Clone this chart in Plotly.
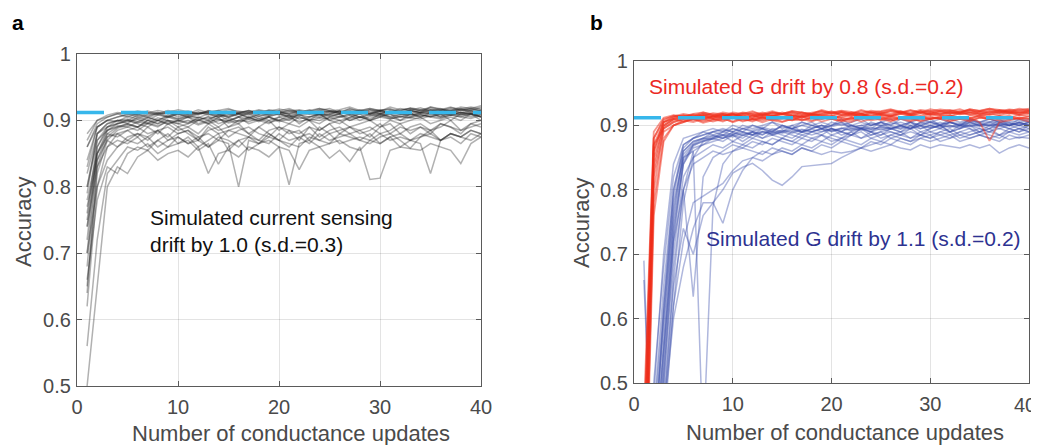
import plotly.graph_objects as go

# ---------------- data ----------------
updates = list(range(1, 41))
baseline_acc = 0.912
x_ticks = [0, 10, 20, 30, 40]
x_tick_labels = ["0", "10", "20", "30", "40"]
y_ticks = [0.5, 0.6, 0.7, 0.8, 0.9, 1.0]
y_tick_labels = ["0.5", "0.6", "0.7", "0.8", "0.9", "1"]

# panel a: simulated current sensing drift (black)
a01 = [0.88,0.90,0.905,0.91,0.905,0.91,0.912,0.908,0.912,0.91,0.914,0.91,0.912,0.915,0.91,0.912,0.914,0.91,0.915,0.912,0.91,0.914,0.912,0.916,0.912,0.914,0.91,0.915,0.913,0.916,0.912,0.915,0.918,0.914,0.916,0.913,0.917,0.915,0.918,0.916]
a02 = [0.84,0.89,0.90,0.905,0.91,0.905,0.91,0.912,0.906,0.912,0.908,0.913,0.91,0.905,0.912,0.91,0.915,0.912,0.908,0.914,0.91,0.912,0.916,0.91,0.914,0.912,0.918,0.913,0.91,0.915,0.917,0.912,0.915,0.919,0.914,0.916,0.92,0.915,0.918,0.914]
a03 = [0.80,0.88,0.895,0.90,0.90,0.908,0.904,0.91,0.912,0.905,0.91,0.908,0.914,0.91,0.906,0.912,0.91,0.915,0.912,0.91,0.916,0.912,0.91,0.915,0.918,0.912,0.915,0.91,0.916,0.914,0.912,0.918,0.915,0.912,0.92,0.916,0.914,0.918,0.915,0.92]
a04 = [0.76,0.87,0.89,0.90,0.895,0.905,0.90,0.908,0.905,0.91,0.904,0.91,0.912,0.908,0.91,0.906,0.912,0.91,0.914,0.908,0.912,0.915,0.91,0.912,0.914,0.91,0.912,0.916,0.912,0.91,0.915,0.913,0.91,0.916,0.912,0.915,0.913,0.917,0.912,0.915]
a05 = [0.72,0.86,0.885,0.895,0.90,0.896,0.904,0.90,0.908,0.902,0.906,0.904,0.91,0.905,0.908,0.91,0.904,0.91,0.908,0.912,0.906,0.91,0.912,0.908,0.91,0.914,0.908,0.912,0.91,0.914,0.91,0.912,0.915,0.91,0.913,0.91,0.915,0.912,0.91,0.912]
a06 = [0.68,0.84,0.88,0.89,0.895,0.89,0.90,0.895,0.905,0.90,0.895,0.905,0.90,0.908,0.90,0.905,0.91,0.902,0.906,0.91,0.904,0.908,0.905,0.91,0.906,0.91,0.912,0.905,0.91,0.908,0.912,0.91,0.906,0.912,0.91,0.914,0.908,0.912,0.91,0.905]
a07 = [0.65,0.82,0.87,0.885,0.89,0.885,0.895,0.89,0.90,0.895,0.89,0.90,0.895,0.905,0.89,0.90,0.905,0.898,0.905,0.90,0.908,0.895,0.905,0.91,0.90,0.905,0.908,0.90,0.906,0.91,0.904,0.908,0.91,0.905,0.91,0.906,0.912,0.908,0.91,0.905]
a08 = [0.62,0.80,0.86,0.88,0.885,0.875,0.89,0.88,0.895,0.885,0.89,0.88,0.895,0.885,0.89,0.895,0.88,0.89,0.90,0.885,0.895,0.89,0.90,0.885,0.895,0.90,0.89,0.895,0.90,0.89,0.90,0.895,0.90,0.905,0.895,0.90,0.905,0.90,0.91,0.90]
a09 = [0.78,0.85,0.875,0.88,0.87,0.88,0.875,0.885,0.87,0.88,0.885,0.875,0.88,0.87,0.885,0.88,0.875,0.89,0.88,0.87,0.885,0.88,0.89,0.875,0.885,0.89,0.88,0.885,0.89,0.88,0.885,0.895,0.88,0.89,0.885,0.895,0.89,0.88,0.895,0.89]
a10 = [0.74,0.83,0.86,0.87,0.865,0.875,0.86,0.87,0.88,0.865,0.875,0.86,0.87,0.88,0.855,0.87,0.875,0.865,0.88,0.87,0.86,0.875,0.88,0.87,0.865,0.88,0.875,0.87,0.88,0.865,0.875,0.88,0.87,0.875,0.885,0.87,0.88,0.875,0.885,0.88]
a11 = [0.70,0.80,0.84,0.86,0.87,0.865,0.875,0.86,0.87,0.875,0.865,0.875,0.86,0.87,0.865,0.80,0.87,0.865,0.875,0.87,0.865,0.86,0.875,0.87,0.88,0.865,0.87,0.875,0.87,0.88,0.87,0.875,0.87,0.88,0.875,0.87,0.88,0.875,0.885,0.88]
a12 = [0.56,0.72,0.82,0.84,0.86,0.855,0.865,0.85,0.86,0.865,0.87,0.855,0.865,0.834,0.86,0.87,0.855,0.865,0.87,0.86,0.803,0.865,0.87,0.86,0.865,0.87,0.86,0.855,0.87,0.865,0.875,0.86,0.87,0.865,0.82,0.87,0.875,0.865,0.88,0.875]
a13 = [0.50,0.65,0.80,0.83,0.82,0.845,0.855,0.84,0.85,0.855,0.845,0.86,0.82,0.85,0.855,0.845,0.86,0.855,0.845,0.86,0.855,0.826,0.855,0.86,0.843,0.855,0.838,0.86,0.811,0.813,0.855,0.86,0.858,0.855,0.865,0.86,0.855,0.835,0.865,0.875]
a14 = [0.86,0.895,0.905,0.91,0.912,0.908,0.914,0.91,0.915,0.912,0.91,0.916,0.912,0.915,0.918,0.912,0.915,0.91,0.916,0.914,0.918,0.912,0.915,0.918,0.914,0.916,0.92,0.915,0.918,0.914,0.92,0.916,0.918,0.915,0.92,0.917,0.915,0.92,0.918,0.922]
a15 = [0.82,0.88,0.89,0.895,0.90,0.895,0.89,0.90,0.895,0.90,0.905,0.895,0.90,0.89,0.90,0.905,0.895,0.90,0.905,0.90,0.895,0.905,0.90,0.91,0.90,0.895,0.905,0.91,0.90,0.905,0.91,0.90,0.905,0.91,0.905,0.91,0.90,0.91,0.905,0.91]
a16 = [0.77,0.84,0.87,0.86,0.875,0.88,0.87,0.885,0.875,0.89,0.88,0.87,0.885,0.89,0.875,0.885,0.89,0.88,0.875,0.89,0.885,0.87,0.89,0.885,0.895,0.88,0.89,0.885,0.875,0.89,0.895,0.88,0.89,0.895,0.885,0.89,0.90,0.885,0.895,0.90]
a17 = [0.66,0.78,0.83,0.82,0.85,0.86,0.855,0.87,0.86,0.875,0.865,0.87,0.86,0.875,0.87,0.86,0.875,0.87,0.865,0.88,0.87,0.875,0.865,0.88,0.87,0.875,0.88,0.87,0.865,0.875,0.88,0.87,0.858,0.875,0.88,0.87,0.88,0.875,0.87,0.88]
a18 = [0.86,0.89,0.90,0.898,0.906,0.902,0.908,0.91,0.904,0.91,0.906,0.912,0.908,0.91,0.904,0.91,0.912,0.906,0.91,0.914,0.908,0.91,0.914,0.91,0.908,0.915,0.91,0.912,0.916,0.91,0.914,0.91,0.916,0.912,0.915,0.918,0.912,0.916,0.914,0.912]
a19 = [0.80,0.87,0.885,0.89,0.895,0.89,0.90,0.895,0.90,0.89,0.895,0.90,0.905,0.895,0.90,0.895,0.905,0.90,0.895,0.905,0.90,0.91,0.90,0.895,0.905,0.91,0.90,0.905,0.90,0.91,0.905,0.90,0.91,0.905,0.912,0.905,0.91,0.908,0.912,0.905]
a20 = [0.74,0.85,0.88,0.875,0.885,0.89,0.88,0.885,0.89,0.88,0.885,0.87,0.89,0.88,0.885,0.89,0.88,0.87,0.885,0.89,0.88,0.885,0.87,0.89,0.88,0.885,0.89,0.88,0.885,0.895,0.88,0.89,0.885,0.89,0.88,0.895,0.89,0.885,0.89,0.895]
a21 = [0.83,0.89,0.90,0.905,0.908,0.91,0.906,0.912,0.91,0.908,0.912,0.91,0.914,0.91,0.912,0.91,0.908,0.913,0.91,0.912,0.914,0.91,0.912,0.908,0.913,0.91,0.914,0.912,0.91,0.914,0.912,0.91,0.914,0.912,0.916,0.912,0.914,0.912,0.916,0.914]
a22 = [0.79,0.88,0.895,0.90,0.902,0.898,0.905,0.90,0.906,0.902,0.908,0.904,0.902,0.908,0.905,0.91,0.904,0.908,0.906,0.91,0.905,0.908,0.91,0.906,0.91,0.908,0.904,0.91,0.908,0.912,0.906,0.91,0.908,0.912,0.91,0.908,0.912,0.91,0.914,0.91]
a23 = [0.75,0.86,0.89,0.895,0.898,0.902,0.896,0.904,0.90,0.898,0.905,0.90,0.906,0.902,0.898,0.905,0.902,0.906,0.90,0.905,0.908,0.902,0.906,0.904,0.908,0.905,0.91,0.904,0.908,0.906,0.91,0.905,0.91,0.908,0.906,0.91,0.908,0.912,0.908,0.91]
a24 = [0.70,0.85,0.885,0.892,0.89,0.898,0.895,0.90,0.894,0.90,0.897,0.902,0.895,0.90,0.904,0.898,0.902,0.90,0.905,0.898,0.902,0.906,0.90,0.904,0.902,0.906,0.90,0.905,0.903,0.908,0.902,0.906,0.904,0.908,0.905,0.902,0.908,0.905,0.91,0.906]
a25 = [0.87,0.90,0.908,0.912,0.91,0.914,0.911,0.915,0.912,0.916,0.913,0.91,0.915,0.912,0.916,0.914,0.912,0.916,0.913,0.917,0.914,0.916,0.913,0.918,0.915,0.912,0.917,0.914,0.918,0.915,0.917,0.914,0.919,0.916,0.918,0.915,0.919,0.917,0.92,0.917]
a26 = [0.64,0.83,0.875,0.888,0.893,0.89,0.896,0.892,0.898,0.895,0.90,0.893,0.898,0.902,0.896,0.90,0.898,0.903,0.897,0.90,0.904,0.898,0.902,0.90,0.905,0.90,0.903,0.906,0.90,0.905,0.902,0.906,0.904,0.902,0.907,0.904,0.908,0.905,0.903,0.908]
sensing_runs = [a01,a02,a03,a04,a05,a06,a07,a08,a09,a10,a11,a12,a13,a14,a15,a16,a17,a18,a19,a20,a21,a22,a23,a24,a25,a26]

# panel b: G drift by 0.8 (red)
r01 = [0.30,0.86,0.905,0.912,0.915,0.912,0.918,0.914,0.916,0.912,0.918,0.915,0.92,0.916,0.918,0.914,0.92,0.916,0.918,0.922,0.916,0.92,0.918,0.915,0.92,0.918,0.922,0.916,0.92,0.918,0.922,0.919,0.92,0.924,0.918,0.922,0.92,0.924,0.92,0.922]
r02 = [0.25,0.84,0.90,0.91,0.912,0.916,0.91,0.915,0.912,0.918,0.914,0.912,0.916,0.914,0.918,0.915,0.912,0.918,0.916,0.914,0.92,0.915,0.918,0.914,0.918,0.916,0.92,0.918,0.915,0.92,0.917,0.921,0.918,0.92,0.916,0.921,0.919,0.922,0.918,0.92]
r03 = [0.40,0.88,0.91,0.914,0.918,0.915,0.92,0.917,0.914,0.92,0.918,0.922,0.916,0.92,0.918,0.922,0.92,0.918,0.924,0.92,0.922,0.918,0.924,0.92,0.922,0.925,0.92,0.923,0.92,0.925,0.922,0.924,0.92,0.925,0.922,0.926,0.922,0.925,0.923,0.926]
r04 = [0.20,0.80,0.895,0.905,0.91,0.908,0.912,0.91,0.906,0.912,0.91,0.908,0.914,0.91,0.912,0.908,0.914,0.912,0.91,0.914,0.912,0.91,0.915,0.912,0.91,0.914,0.912,0.916,0.912,0.914,0.91,0.915,0.913,0.91,0.916,0.912,0.915,0.912,0.916,0.914]
r05 = [0.35,0.87,0.905,0.91,0.906,0.912,0.908,0.914,0.91,0.906,0.912,0.91,0.908,0.912,0.906,0.91,0.914,0.908,0.912,0.91,0.906,0.912,0.91,0.914,0.908,0.912,0.91,0.906,0.912,0.91,0.914,0.91,0.912,0.908,0.912,0.91,0.914,0.91,0.912,0.91]
r06 = [0.28,0.82,0.89,0.90,0.905,0.91,0.904,0.908,0.912,0.905,0.91,0.906,0.912,0.908,0.905,0.91,0.908,0.912,0.906,0.91,0.908,0.905,0.912,0.908,0.91,0.906,0.912,0.91,0.908,0.912,0.91,0.906,0.91,0.912,0.905,0.876,0.905,0.908,0.912,0.91]
r07 = [0.45,0.89,0.912,0.916,0.914,0.918,0.92,0.916,0.92,0.918,0.915,0.92,0.918,0.922,0.918,0.92,0.916,0.92,0.922,0.918,0.92,0.917,0.922,0.92,0.918,0.922,0.92,0.924,0.92,0.922,0.918,0.922,0.925,0.92,0.922,0.92,0.924,0.921,0.92,0.924]
r08 = [0.22,0.78,0.88,0.90,0.908,0.905,0.91,0.906,0.91,0.912,0.908,0.91,0.905,0.91,0.912,0.908,0.91,0.906,0.912,0.91,0.908,0.912,0.906,0.91,0.912,0.908,0.91,0.912,0.906,0.91,0.912,0.908,0.91,0.906,0.912,0.91,0.908,0.912,0.91,0.906]
r09 = [0.33,0.85,0.90,0.91,0.914,0.91,0.916,0.912,0.918,0.914,0.916,0.912,0.918,0.914,0.92,0.916,0.914,0.918,0.915,0.92,0.916,0.918,0.914,0.92,0.917,0.915,0.92,0.918,0.922,0.916,0.92,0.918,0.922,0.916,0.92,0.918,0.922,0.92,0.917,0.922]
r10 = [0.38,0.87,0.895,0.905,0.91,0.912,0.915,0.91,0.914,0.918,0.912,0.916,0.91,0.915,0.913,0.917,0.912,0.916,0.914,0.91,0.916,0.914,0.918,0.912,0.916,0.914,0.918,0.915,0.912,0.918,0.916,0.914,0.919,0.916,0.914,0.918,0.916,0.92,0.916,0.918]
r11 = [0.18,0.76,0.875,0.90,0.905,0.91,0.906,0.91,0.908,0.912,0.906,0.91,0.912,0.908,0.91,0.914,0.908,0.912,0.91,0.914,0.91,0.908,0.912,0.91,0.914,0.91,0.912,0.908,0.914,0.91,0.912,0.916,0.91,0.912,0.914,0.91,0.912,0.915,0.91,0.914]
r12 = [0.32,0.86,0.905,0.913,0.916,0.914,0.917,0.915,0.918,0.916,0.919,0.917,0.915,0.919,0.917,0.92,0.918,0.916,0.92,0.918,0.921,0.919,0.917,0.921,0.919,0.922,0.92,0.918,0.922,0.92,0.923,0.921,0.919,0.923,0.921,0.924,0.922,0.92,0.924,0.922]
r13 = [0.27,0.83,0.898,0.908,0.912,0.91,0.914,0.912,0.915,0.913,0.911,0.915,0.913,0.916,0.914,0.912,0.916,0.914,0.917,0.915,0.913,0.917,0.915,0.918,0.916,0.914,0.918,0.916,0.919,0.917,0.915,0.919,0.917,0.92,0.918,0.916,0.92,0.918,0.921,0.919]
r14 = [0.42,0.88,0.908,0.915,0.913,0.917,0.915,0.919,0.917,0.915,0.92,0.918,0.916,0.92,0.918,0.922,0.92,0.918,0.922,0.92,0.923,0.921,0.919,0.923,0.921,0.924,0.922,0.92,0.924,0.922,0.925,0.923,0.921,0.925,0.923,0.926,0.924,0.922,0.926,0.924]
g08_runs = [r01,r02,r03,r04,r05,r06,r07,r08,r09,r10,r11,r12,r13,r14]

# panel b: G drift by 1.1 (blue)
b01 = [0.30,0.40,0.58,0.76,0.86,0.875,0.88,0.885,0.88,0.89,0.885,0.89,0.895,0.885,0.89,0.895,0.89,0.895,0.90,0.89,0.895,0.90,0.895,0.89,0.90,0.895,0.90,0.905,0.895,0.90,0.905,0.90,0.895,0.905,0.90,0.905,0.90,0.905,0.90,0.905]
b02 = [0.69,0.25,0.50,0.72,0.84,0.87,0.875,0.88,0.875,0.885,0.88,0.89,0.88,0.885,0.89,0.885,0.88,0.89,0.885,0.895,0.89,0.885,0.895,0.89,0.885,0.895,0.89,0.90,0.89,0.895,0.90,0.89,0.895,0.90,0.895,0.89,0.90,0.895,0.90,0.895]
b03 = [0.20,0.45,0.65,0.80,0.87,0.88,0.89,0.885,0.89,0.895,0.89,0.90,0.895,0.89,0.90,0.895,0.90,0.905,0.895,0.90,0.905,0.90,0.895,0.905,0.90,0.905,0.90,0.895,0.905,0.91,0.90,0.905,0.90,0.908,0.903,0.90,0.908,0.904,0.90,0.906]
b04 = [0.15,0.35,0.52,0.70,0.82,0.85,0.86,0.87,0.865,0.875,0.87,0.88,0.875,0.87,0.88,0.875,0.885,0.88,0.875,0.885,0.88,0.89,0.88,0.885,0.89,0.88,0.885,0.89,0.885,0.88,0.89,0.885,0.89,0.895,0.885,0.89,0.895,0.89,0.895,0.89]
b05 = [0.66,0.30,0.45,0.66,0.80,0.86,0.87,0.88,0.885,0.875,0.885,0.88,0.89,0.885,0.88,0.89,0.885,0.89,0.895,0.885,0.89,0.885,0.895,0.89,0.895,0.89,0.885,0.895,0.90,0.89,0.895,0.89,0.90,0.895,0.89,0.90,0.895,0.90,0.895,0.90]
b06 = [0.10,0.48,0.70,0.84,0.88,0.885,0.89,0.895,0.89,0.90,0.895,0.90,0.895,0.905,0.90,0.895,0.905,0.90,0.905,0.90,0.91,0.90,0.905,0.90,0.905,0.91,0.90,0.905,0.91,0.905,0.90,0.91,0.905,0.91,0.905,0.91,0.905,0.91,0.908,0.91]
b07 = [0.25,0.38,0.55,0.72,0.80,0.634,0.82,0.85,0.86,0.87,0.865,0.875,0.87,0.88,0.875,0.87,0.88,0.875,0.885,0.88,0.875,0.885,0.88,0.89,0.88,0.885,0.89,0.88,0.885,0.89,0.885,0.88,0.89,0.885,0.89,0.895,0.885,0.89,0.895,0.89]
b08 = [0.18,0.30,0.45,0.60,0.68,0.74,0.78,0.78,0.80,0.826,0.835,0.841,0.83,0.815,0.807,0.82,0.836,0.838,0.84,0.841,0.85,0.857,0.865,0.87,0.875,0.87,0.88,0.875,0.88,0.885,0.875,0.88,0.885,0.88,0.885,0.88,0.885,0.878,0.882,0.88]
b09 = [0.22,0.42,0.60,0.78,0.85,0.86,0.40,0.774,0.84,0.86,0.87,0.865,0.875,0.87,0.88,0.875,0.87,0.88,0.885,0.875,0.88,0.885,0.89,0.88,0.885,0.89,0.885,0.88,0.89,0.885,0.89,0.895,0.885,0.89,0.895,0.89,0.885,0.895,0.89,0.895]
b10 = [0.12,0.28,0.48,0.65,0.74,0.70,0.76,0.78,0.748,0.80,0.83,0.85,0.845,0.855,0.86,0.855,0.865,0.86,0.87,0.865,0.875,0.87,0.865,0.875,0.87,0.88,0.875,0.87,0.88,0.875,0.88,0.885,0.875,0.88,0.885,0.88,0.875,0.885,0.88,0.885]
b11 = [0.35,0.32,0.50,0.68,0.80,0.84,0.85,0.86,0.855,0.86,0.865,0.86,0.855,0.865,0.86,0.855,0.865,0.86,0.855,0.86,0.857,0.86,0.865,0.86,0.865,0.87,0.865,0.862,0.87,0.865,0.87,0.868,0.865,0.87,0.865,0.87,0.857,0.865,0.87,0.865]
b12 = [0.40,0.20,0.42,0.62,0.78,0.85,0.875,0.88,0.89,0.885,0.895,0.89,0.885,0.895,0.89,0.90,0.89,0.895,0.90,0.895,0.89,0.90,0.895,0.90,0.905,0.895,0.90,0.895,0.905,0.90,0.895,0.905,0.90,0.905,0.90,0.895,0.905,0.90,0.905,0.90]
b13 = [0.28,0.50,0.68,0.82,0.87,0.88,0.885,0.89,0.895,0.89,0.90,0.895,0.90,0.905,0.895,0.90,0.905,0.90,0.895,0.905,0.90,0.905,0.91,0.90,0.905,0.90,0.91,0.905,0.90,0.905,0.91,0.905,0.90,0.91,0.905,0.91,0.905,0.90,0.91,0.905]
b14 = [0.15,0.33,0.55,0.74,0.84,0.865,0.87,0.875,0.88,0.885,0.875,0.885,0.88,0.89,0.885,0.88,0.89,0.885,0.89,0.895,0.885,0.89,0.895,0.885,0.89,0.895,0.89,0.895,0.885,0.895,0.90,0.89,0.895,0.90,0.89,0.895,0.90,0.895,0.89,0.90]
b15 = [0.20,0.30,0.46,0.62,0.72,0.78,0.79,0.80,0.81,0.83,0.845,0.85,0.86,0.855,0.865,0.86,0.87,0.865,0.875,0.87,0.88,0.875,0.87,0.88,0.875,0.885,0.88,0.875,0.885,0.88,0.885,0.89,0.88,0.885,0.89,0.885,0.88,0.89,0.885,0.89]
b16 = [0.45,0.36,0.62,0.80,0.86,0.875,0.88,0.89,0.885,0.895,0.89,0.885,0.895,0.89,0.90,0.895,0.89,0.90,0.895,0.90,0.905,0.895,0.90,0.895,0.905,0.90,0.895,0.905,0.90,0.905,0.90,0.905,0.90,0.905,0.90,0.905,0.91,0.90,0.905,0.90]
b17 = [0.32,0.44,0.62,0.79,0.865,0.88,0.885,0.89,0.893,0.89,0.895,0.892,0.897,0.893,0.898,0.895,0.90,0.896,0.90,0.898,0.902,0.898,0.90,0.903,0.899,0.902,0.905,0.90,0.903,0.906,0.902,0.905,0.903,0.907,0.904,0.906,0.903,0.907,0.905,0.908]
b18 = [0.25,0.36,0.56,0.75,0.85,0.87,0.878,0.884,0.88,0.886,0.89,0.886,0.891,0.888,0.893,0.89,0.894,0.89,0.895,0.892,0.896,0.893,0.897,0.894,0.898,0.895,0.899,0.896,0.90,0.897,0.90,0.898,0.902,0.899,0.903,0.90,0.902,0.90,0.904,0.901]
b19 = [0.50,0.30,0.53,0.73,0.845,0.868,0.876,0.882,0.886,0.882,0.888,0.885,0.89,0.887,0.892,0.888,0.893,0.89,0.894,0.891,0.895,0.892,0.896,0.893,0.897,0.894,0.898,0.895,0.899,0.896,0.90,0.897,0.90,0.898,0.901,0.899,0.902,0.90,0.903,0.90]
b20 = [0.18,0.40,0.60,0.77,0.855,0.872,0.88,0.878,0.884,0.888,0.884,0.89,0.886,0.892,0.888,0.893,0.889,0.894,0.89,0.895,0.891,0.896,0.892,0.897,0.893,0.898,0.894,0.899,0.895,0.90,0.896,0.90,0.897,0.902,0.898,0.902,0.899,0.903,0.90,0.904]
g11_runs = [b01,b02,b03,b04,b05,b06,b07,b08,b09,b10,b11,b12,b13,b14,b15,b16,b17,b18,b19,b20]

# ---------------- figure ----------------
# the page body adds an 8 px margin; the figure is sized to fill the rest of the window
OFF = 8
W, H = 1039 - OFF, 445 - OFF
FONT = "Liberation Sans, Arial, Helvetica, sans-serif"
TICK_FONT = dict(family=FONT, size=20, color="#4a4a4a")

def px(v):   # page x -> paper fraction
    return (v - OFF) / W

def py(v):   # page y (from top) -> paper fraction
    return 1 - (v - OFF) / H

fig = go.Figure()

def add_runs(runs, color, width, xa, ya):
    for run in runs:
        fig.add_trace(go.Scatter(x=updates, y=run, mode="lines",
                                 line=dict(color=color, width=width),
                                 xaxis=xa, yaxis=ya, showlegend=False,
                                 hoverinfo="skip"))

add_runs(sensing_runs, "rgba(25,25,25,0.34)", 1.5, "x", "y")
add_runs(g11_runs, "rgba(55,75,170,0.40)", 1.5, "x2", "y2")
add_runs(g08_runs, "rgba(240,45,25,0.50)", 1.8, "x2", "y2")

for xa, ya in (("x", "y"), ("x2", "y2")):
    fig.add_trace(go.Scatter(x=[0, 40], y=[baseline_acc, baseline_acc], mode="lines",
                             line=dict(color="rgb(55,183,235)", width=3.5, dash="27px,17px"),
                             xaxis=xa, yaxis=ya, showlegend=False, hoverinfo="skip"))

axis_common = dict(showgrid=True, gridcolor="rgba(0,0,0,0.11)", gridwidth=1,
                   showline=True, linecolor="#5a5a5a", linewidth=1.2, mirror="ticks",
                   ticks="inside", ticklen=5, tickcolor="#5a5a5a", zeroline=False,
                   automargin=False, ticklabeloverflow="allow", tickfont=TICK_FONT)

# the last x label of panel b is drawn separately, slightly left of its tick (as in the reference)
x_tick_labels_b = x_tick_labels[:-1] + [""]

fig.update_layout(
    template="none",
    width=W, height=H, margin=dict(l=0, r=0, t=0, b=0, autoexpand=False),
    paper_bgcolor="white", plot_bgcolor="white",
    xaxis=dict(domain=[px(77), px(481)], range=[0, 40], tickvals=x_ticks,
               ticktext=x_tick_labels, anchor="y", ticklabelstandoff=3, **axis_common),
    yaxis=dict(domain=[py(386), py(54)], range=[0.5, 1], tickvals=y_ticks,
               ticktext=y_tick_labels, anchor="x", ticklabelstandoff=1, **axis_common),
    xaxis2=dict(domain=[px(634), px(1029)], range=[0, 40], tickvals=x_ticks,
                ticktext=x_tick_labels_b, anchor="y2", ticklabelstandoff=3, **axis_common),
    yaxis2=dict(domain=[py(383), py(61)], range=[0.5, 1], tickvals=y_ticks,
                ticktext=y_tick_labels, anchor="x2", ticklabelstandoff=1, **axis_common),
)

ann = []
ann.append(dict(text=x_tick_labels[-1], x=px(1024.5), y=py(405), xref="paper", yref="paper",
                xanchor="center", yanchor="middle", showarrow=False, font=TICK_FONT))
# panel letters
for letter, xl in (("a", 10), ("b", 588)):
    ann.append(dict(text="<b>%s</b>" % letter, x=px(xl), y=py(22), xref="paper", yref="paper",
                    xanchor="left", yanchor="middle", showarrow=False,
                    font=dict(family=FONT, size=21, color="black")))
# axis titles
for xc, yc in ((291, 433), (845, 432)):
    ann.append(dict(text="Number of conductance updates", x=px(xc), y=py(yc),
                    xref="paper", yref="paper", xanchor="center", yanchor="middle",
                    showarrow=False, font=dict(family=FONT, size=22, color="#4a4a4a")))
for xc, yc in ((23, 222), (581, 223)):
    ann.append(dict(text="Accuracy", x=px(xc), y=py(yc), textangle=-90,
                    xref="paper", yref="paper", xanchor="center", yanchor="middle",
                    showarrow=False, font=dict(family=FONT, size=22, color="#4a4a4a")))
# in-plot labels
ann.append(dict(text="Simulated current sensing<br>drift by 1.0 (s.d.=0.3)", x=7.0, y=0.734,
                xref="x", yref="y", xanchor="left", yanchor="middle", align="left",
                showarrow=False, font=dict(family=FONT, size=21, color="#111111")))
ann.append(dict(text="Simulated G drift by 0.8 (s.d.=0.2)", x=1.29, y=0.96,
                xref="x2", yref="y2", xanchor="left", yanchor="middle",
                showarrow=False, font=dict(family=FONT, size=21, color="rgb(235,40,35)")))
ann.append(dict(text="Simulated G drift by 1.1 (s.d.=0.2)", x=7.09, y=0.725,
                xref="x2", yref="y2", xanchor="left", yanchor="middle",
                showarrow=False, font=dict(family=FONT, size=21, color="rgb(45,50,145)")))
fig.update_layout(annotations=ann)

fig.write_html("out.html")
